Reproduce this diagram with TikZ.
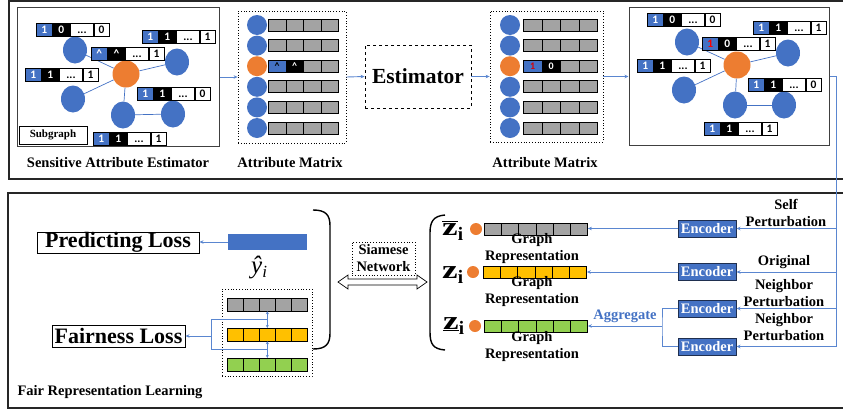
\documentclass[tikz,border=0pt]{standalone}
\usepackage{fontspec}
\usepackage{graphicx}
\setmainfont{Liberation Serif}
\newfontfamily\digitfont{Carlito}
\usetikzlibrary{arrows.meta,shapes.geometric,calc}
\definecolor{myblue}{HTML}{4472C4}
\definecolor{lineblue}{HTML}{5A86D0}
\definecolor{myorange}{HTML}{ED7D31}
\definecolor{mygray}{HTML}{A3A3A3}
\definecolor{mygold}{HTML}{FFC000}
\definecolor{mygreen}{HTML}{92D050}
\definecolor{encborder}{HTML}{1F2F4F}
\tikzset{
  panel/.style={draw=black!85, line width=1.3pt},
  framebox/.style={draw=black!75, line width=1pt, rectangle, inner sep=0},
  dotbox/.style={draw=black, dotted, line width=0.8pt, rectangle, inner sep=0},
  dashbox/.style={draw=black, dashed, line width=0.8pt, rectangle, inner sep=0},
  bl/.style={draw=lineblue, line width=0.9pt},
  blarr/.style={bl, -{Stealth[length=4pt,width=3.5pt]}},
  bldbl/.style={bl, {Stealth[length=3pt,width=3pt]}-{Stealth[length=3pt,width=3pt]}},
  bcell/.style={rectangle, draw=black, line width=0.6pt, minimum height=12.5, inner sep=0, anchor=north west,
     text height=7.5pt, text depth=0pt,
     font=\digitfont\bfseries\fontsize{11.5}{11.5}\selectfont},
  gcell/.style={rectangle, draw=black, line width=0.7pt, fill=mygray, minimum height=12, inner sep=0, anchor=west,
     text height=6.5pt, text depth=0pt,
     font=\digitfont\bfseries\fontsize{10}{10}\selectfont},
  rcell/.style={rectangle, draw=black, line width=0.7pt, minimum height=12, inner sep=0, anchor=north west},
  gnode/.style={ellipse, minimum width=24, minimum height=27, inner sep=0, fill=myblue},
  onode/.style={circle, minimum size=27, inner sep=0, fill=myorange},
  mdot/.style={circle, minimum size=20, inner sep=0},
  odot/.style={circle, minimum size=12, inner sep=0, fill=myorange},
  gedge/.style={draw=myblue, line width=0.7pt},
  captxt/.style={font=\bfseries\fontsize{14.5}{17}\selectfont, inner sep=0, align=center},
  bigtxt/.style={font=\bfseries\fontsize{22}{22}\selectfont},
  ztxt/.style={anchor=base west, inner sep=0, font=\bfseries\fontsize{26}{26}\selectfont},
  encnode/.style={rectangle, fill=myblue, draw=encborder, line width=1pt, text=white, minimum width=58, minimum height=17,
     inner sep=0, font=\bfseries\fontsize{14.5}{14.5}\selectfont},
}
\newcommand\abar[6]{%
  \node[bcell, fill=myblue, text=white, minimum width=16] (#1a) at (#2,#3) {#4};
  \node[bcell, fill=black, text=white, minimum width=17] (#1b) at (#1a.north east) {#5};
  \node[bcell, fill=white, minimum width=23] (#1c) at (#1b.north east) {...};
  \node[bcell, fill=white, minimum width=15] (#1d) at (#1c.north east) {#6};}
\newcommand\zsub{\raisebox{-5pt}{\fontsize{19}{19}\selectfont i}}
\newcommand\zz{\scalebox{1.35}[1]{z}}
\begin{document}
\begin{tikzpicture}[x=1pt,y=-1pt]
\useasboundingbox (0,0) rectangle (843,410);
% panels
\draw[panel] (843,1) -| (9,179) -- (843,179);
\draw[panel] (843,193) -| (8,408) -- (843,408);

% ---------- top panel ----------
\node[framebox, minimum width=202, minimum height=139] (lbox) at (118,76.5) {};
\node[framebox, draw=black, minimum width=68, minimum height=18, font=\bfseries\fontsize{11}{11}\selectfont] (sub) at (53,135) {Subgraph};
\node[captxt] (capL) at (118,163) {Sensitive Attribute Estimator};

% left graph
\node[gnode] (gA) at (75,50) {};
\node[onode] (gO) at (126,74) {};
\node[gnode] (gB) at (177,62) {};
\node[gnode] (gC) at (73,99) {};
\node[gnode] (gD) at (123,115) {};
\node[gnode] (gE) at (173,114) {};
\draw[gedge] (gO) -- (gA);
\draw[gedge] (gO) -- (gB);
\draw[gedge] (gO) -- (gC);
\draw[gedge] (gO) -- (gD);
\draw[gedge] (gD) -- (gE);
\abar{L1}{36}{23}{1}{0}{0}
\abar{L2}{91}{47}{\textasciicircum}{\textasciicircum}{1}
\abar{L3}{142}{30}{1}{1}{1}
\abar{L4}{25}{68}{1}{1}{1}
\abar{L5}{137}{87}{1}{1}{0}
\abar{L6}{93}{132}{1}{1}{1}

% attribute matrix 1
\node[dotbox, minimum width=108, minimum height=132] (m1) at (292,77) {};
\foreach \r/\yy/\cc in {1/25/myblue,2/45.6/myblue,3/66.2/myorange,4/86.8/myblue,5/107.4/myblue,6/128/myblue}{
  \node[mdot, fill=\cc] (ma\r) at (257,\yy) {};
  \foreach \k in {0,...,3}
    \node[gcell, minimum width=17.5] (ma\r c\k) at ({268+\k*17.5},\yy) {};
}
\node[gcell, fill=myblue, minimum width=17.5] (mas0) at (268,66.2) {\textasciicircum};
\node[gcell, fill=black, text=white, minimum width=17.5] (mas1) at (285.5,66.2) {\textasciicircum};
\node[captxt] (capM1) at (290,163) {Attribute Matrix};

% estimator
\node[dashbox, minimum width=106, minimum height=63, font=\bfseries\fontsize{21.5}{21.5}\selectfont] (est) at (418,76.5) {Estimator};

% attribute matrix 2
\node[dotbox, minimum width=113, minimum height=131] (m2) at (546.5,76.5) {};
\foreach \r/\yy/\cc in {1/25/myblue,2/45.6/myblue,3/66.2/myorange,4/86.8/myblue,5/107.4/myblue,6/128/myblue}{
  \node[mdot, fill=\cc] (mb\r) at (510,\yy) {};
  \foreach \k in {0,...,3}
    \node[gcell, minimum width=18.5] (mb\r c\k) at ({523+\k*18.5},\yy) {};
}
\node[gcell, fill=myblue, text=red!85!black, minimum width=18.5] (mbs0) at (523,66.2) {1};
\node[gcell, fill=black, text=white, minimum width=18.5] (mbs1) at (541.5,66.2) {0};
\node[captxt] (capM2) at (545,163) {Attribute Matrix};

% right graph box
\node[framebox, minimum width=200, minimum height=138] (rbox) at (729,76) {};
\node[gnode] (hA) at (687,42) {};
\node[onode] (hO) at (737,65) {};
\node[gnode] (hB) at (788,53) {};
\node[gnode] (hC) at (684,90) {};
\node[gnode] (hD) at (735,105) {};
\node[gnode] (hE) at (784,105) {};
\draw[gedge] (hO) -- (hA);
\draw[gedge] (hO) -- (hB);
\draw[gedge] (hO) -- (hC);
\draw[gedge] (hO) -- (hD);
\draw[gedge] (hD) -- (hE);
\abar{R1}{647}{13}{1}{0}{0}
\abar{R2}{702}{37}{\textcolor{red}{1}}{0}{1}
\abar{R3}{753}{21}{1}{1}{1}
\abar{R4}{637}{59}{1}{1}{1}
\abar{R5}{748}{78}{1}{1}{0}
\abar{R6}{704}{122}{1}{1}{1}

% top arrows
\draw[blarr] (lbox.east |- m1.west) -- (m1.west);
\draw[blarr] (m1.east) -- (est.west);
\draw[blarr] (est.east) -- (m2.west);
\draw[blarr] (m2.east) -- (m2.east -| rbox.west);

% ---------- bottom panel ----------
% encoders
\node[encnode] (enc1) at (707,228.5) {Encoder};
\node[encnode] (enc2) at (707,272) {Encoder};
\node[encnode] (enc3) at (707,308.5) {Encoder};
\node[encnode] (enc4) at (707,346.5) {Encoder};
\coordinate (vb) at (836,346.5);
\draw[bl] (rbox.east) -| (vb);
\draw[blarr] (vb) -- (enc4.east);
\draw[blarr] (enc1.east -| vb) -- (enc1.east);
\draw[blarr] (enc2.east -| vb) -- (enc2.east);
\draw[blarr] (enc3.east -| vb) -- (enc3.east);
\node[captxt] (lab1) at (786,213) {Self\\Perturbation};
\node[captxt] (lab2) at (784,262) {Original};
\node[captxt] (lab3) at (784,293.5) {Neighbor\\Perturbation};
\node[captxt] (lab4) at (784,327.5) {Neighbor\\Perturbation};

% representation bars
\foreach \k in {0,...,5}{
  \node[rcell, fill=mygray, minimum width=17.2, minimum height=11.5] (zg\k) at ({484+\k*17.2},223) {};
  \node[rcell, fill=mygold, minimum width=17.2] (zo\k) at ({483+\k*17.2},266) {};
  \node[rcell, fill=mygreen, minimum width=17.2] (zn\k) at ({484+\k*17.2},320) {};
}
\node[odot] (d1) at (476,229) {};
\node[odot] (d2) at (473,272) {};
\node[odot] (d3) at (475,326) {};
\node[captxt] (gr1) at (532,249) {Graph\\Representation};
\node[captxt] (gr2) at (532,291.5) {Graph\\Representation};
\node[captxt] (gr3) at (532,347) {Graph\\Representation};
\node[ztxt] (zbar) at (442,235) {$\overline{\hbox{\zz}}$\zsub};
\node[ztxt] (zmid) at (442,278) {\zz\zsub};
\node[ztxt] (zund) at (443,329) {\underline{\zz}\zsub};

\draw[blarr] (enc1.west) -- (enc1.west -| zg5.east);
\draw[blarr] (enc2.west) -- (enc2.west -| zo5.east);
\coordinate (ag) at (662,326);
\draw[bl] (enc3.west) -| (ag) |- (enc4.west);
\draw[blarr] (ag) -- (ag -| zn5.east);
\node[font=\bfseries\fontsize{14.5}{14.5}\selectfont, text=myblue, inner sep=0] (aggt) at (625,316) {Aggregate};

% left bracket of z group
\draw[line width=1.4pt] (445,215) .. controls (433,216) and (430,222) .. (430,233) -- (430,332) .. controls (430,344) and (433,349) .. (445,350);

% Siamese network
\node[dotbox, font=\bfseries\fontsize{14.5}{17}\selectfont, align=center, minimum width=63, minimum height=33] (siam) at (383.5,258.5) {Siamese\\Network};
\draw[fill=white, line width=0.7pt] (338,282) -- (348,275) -- (348,279) -- (417,279) -- (417,275) -- (427,282) -- (417,289) -- (417,285) -- (348,285) -- (348,289) -- cycle;

% right bracket of loss group
\draw[line width=1.4pt] (313,210) .. controls (326,210) and (330,215) .. (330,226) -- (330,333) .. controls (330,344) and (326,349) .. (313,349);

% predicting loss
\node[rectangle, draw=black, line width=0.9pt, minimum width=162, minimum height=21, inner sep=0, bigtxt] (pl) at (118,242.5) {Predicting Loss};
\node[rectangle, fill=myblue, minimum width=79, minimum height=16, inner sep=0] (yb) at (267.5,242) {};
\draw[blarr] (yb.west) -- (yb.west -| pl.east);
\node[anchor=base west, inner sep=0, font=\itshape\fontsize{25}{25}\selectfont] (yhat) at (251,273) {ŷ\raisebox{-4pt}{\fontsize{17}{17}\selectfont i}};

% fairness
\node[dotbox, minimum width=90, minimum height=87] (fbox) at (267,332.5) {};
\foreach \k in {0,...,4}{
  \node[rcell, fill=mygray, minimum width=16, minimum height=12.5] (fg\k) at ({227+\k*16},298) {};
  \node[rcell, fill=mygold, minimum width=16, minimum height=12.5] (fo\k) at ({227+\k*16},328) {};
  \node[rcell, fill=mygreen, minimum width=16, minimum height=12.5] (fn\k) at ({227+\k*16},358) {};
}
\node[rectangle, draw=black, line width=0.9pt, minimum width=133, minimum height=22, inner sep=0, bigtxt] (fl) at (118.5,336) {Fairness Loss};
\draw[bldbl] (fg2.south) -- (fo2.north);
\draw[bldbl] (fo2.south) -- (fn2.north);
\coordinate (f1) at ($(fg2.south)!0.5!(fo2.north)$);
\coordinate (f2) at ($(fo2.south)!0.5!(fn2.north)$);
\coordinate (fm) at (211,336);
\draw[bl] (f1) -| (fm |- f2) -- (f2);
\draw[blarr] (fm) -- (fl.east);
\node[captxt] (capF) at (110,392) {Fair Representation Learning};
\end{tikzpicture}
\end{document}
